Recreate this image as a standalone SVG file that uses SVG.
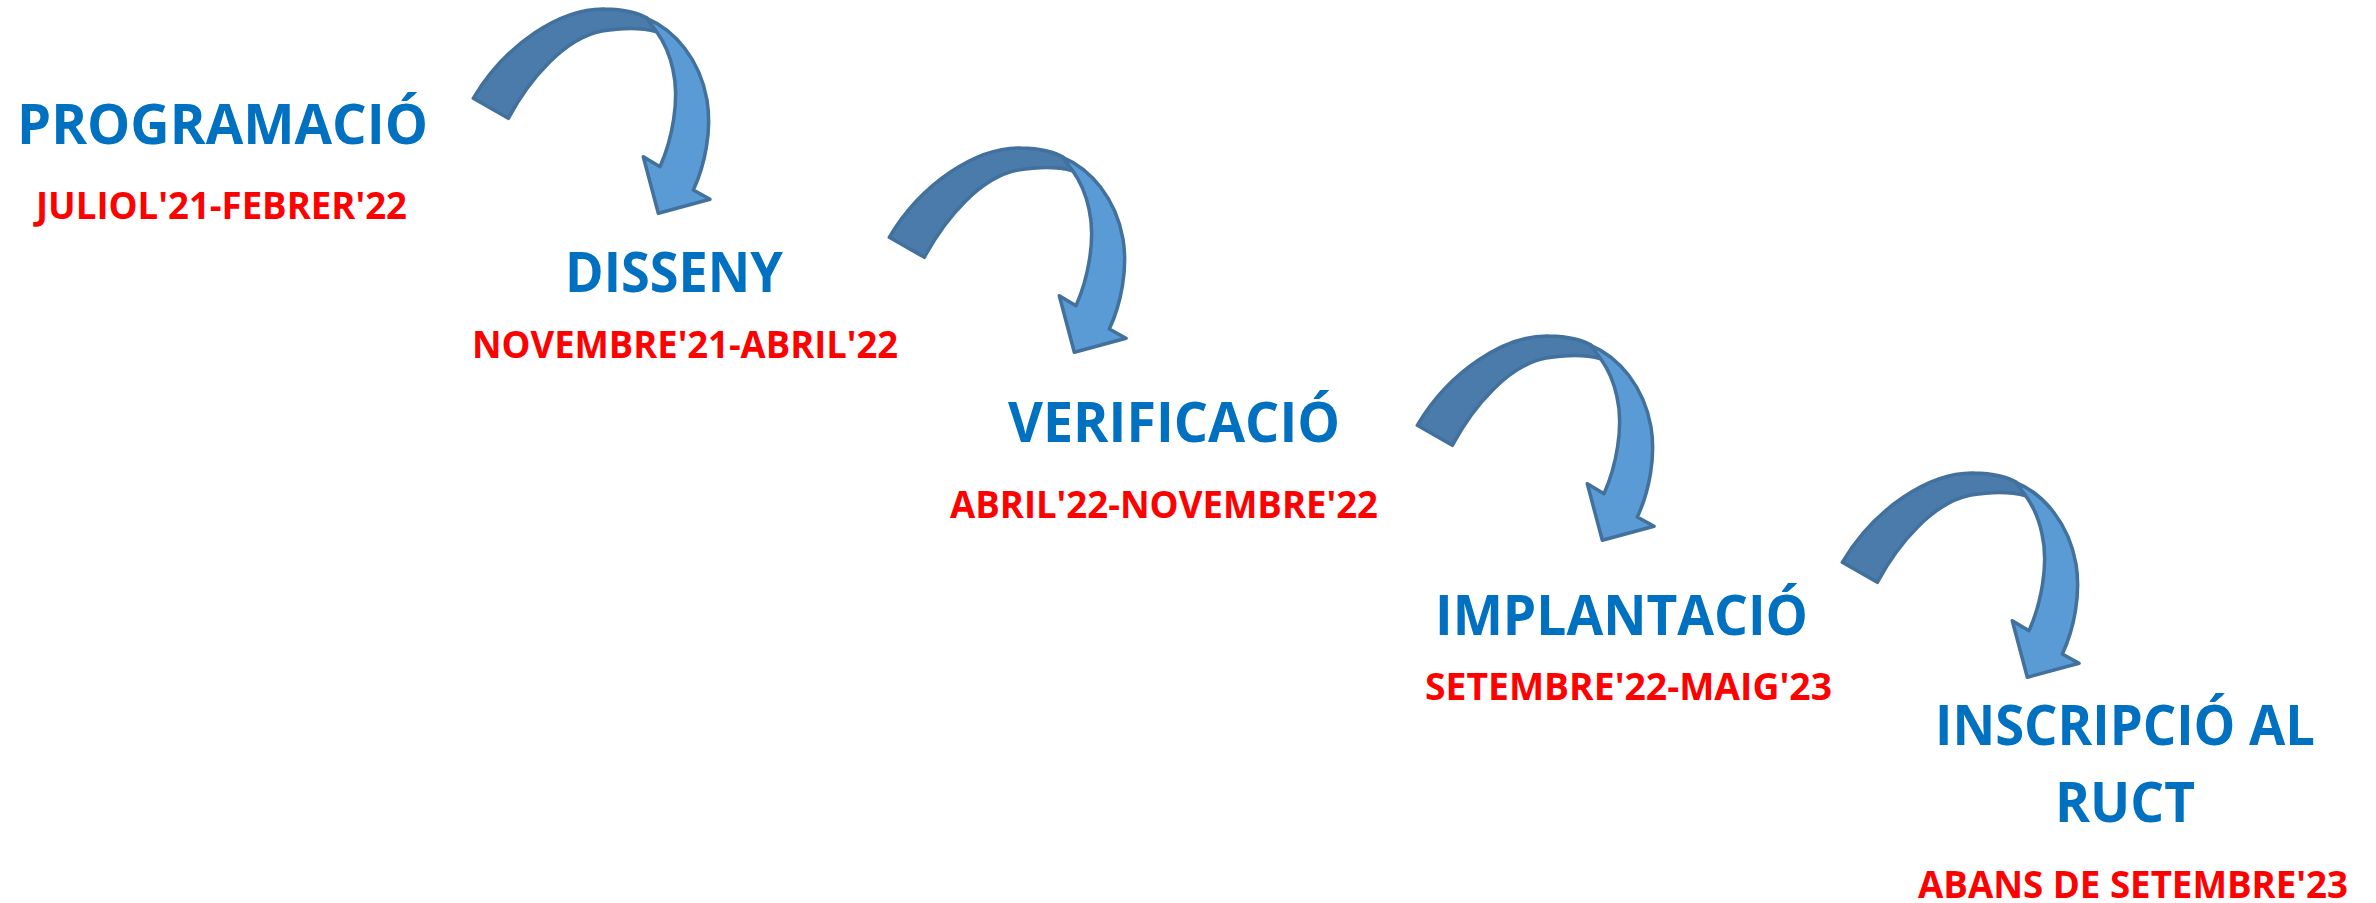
<svg xmlns="http://www.w3.org/2000/svg" xmlns:xlink="http://www.w3.org/1999/xlink" width="2376" height="903" viewBox="0 0 2376 903">
<style>
.t{font-family:"Open Sans","Noto Sans","Liberation Sans",sans-serif;font-weight:700}
.blue{fill:#0070C0;font-size:55px}
.red{fill:#FF0000;font-size:38px}
.back{fill:#4A7BAA;stroke:#41719C;stroke-width:3.5;stroke-linejoin:round}
.front{fill:#5B9BD5;stroke:#41719C;stroke-width:3.5;stroke-linejoin:round}
</style>
<defs>
<g id="curvedArrow">
<path class="back" d="M473.3,98.3 C505,45 560,8 605,9 C625,9 640,14 647,18 L656.7,31.7 C640,27 620,28 602,31 C565,38 530,78 508.3,118.3 Z"/>
<path class="front" d="M646.7,18.3 C675,30 700,60 707,100 C712,130 705,165 693.3,190 L710,199.3 L658.3,213.3 L643.3,156.7 L660,166.7 C672,140 680,100 673,70 C670,55 664,42 656.7,31.7 Z"/>
</g>
</defs>
<rect width="2376" height="903" fill="#FFFFFF"/>
<g id="connectors">
<use xlink:href="#curvedArrow" href="#curvedArrow"/>
<use xlink:href="#curvedArrow" href="#curvedArrow" transform="translate(416,139)"/>
<use xlink:href="#curvedArrow" href="#curvedArrow" transform="translate(944,327)"/>
<use xlink:href="#curvedArrow" href="#curvedArrow" transform="translate(1369,464)"/>
</g>
<g id="programacio">
<text class="t blue" x="17" y="144" textLength="411" lengthAdjust="spacingAndGlyphs">PROGRAMACIÓ</text>
<text class="t red" x="36" y="219" textLength="371" lengthAdjust="spacingAndGlyphs">JULIOL'21-FEBRER'22</text>
</g>
<g id="disseny">
<text class="t blue" x="565" y="292" textLength="218" lengthAdjust="spacingAndGlyphs">DISSENY</text>
<text class="t red" x="472" y="358" textLength="426" lengthAdjust="spacingAndGlyphs">NOVEMBRE'21-ABRIL'22</text>
</g>
<g id="verificacio">
<text class="t blue" x="1008" y="442" textLength="332" lengthAdjust="spacingAndGlyphs">VERIFICACIÓ</text>
<text class="t red" x="950" y="518" textLength="428" lengthAdjust="spacingAndGlyphs">ABRIL'22-NOVEMBRE'22</text>
</g>
<g id="implantacio">
<text class="t blue" x="1435" y="635" textLength="373" lengthAdjust="spacingAndGlyphs">IMPLANTACIÓ</text>
<text class="t red" x="1425" y="700" textLength="407" lengthAdjust="spacingAndGlyphs">SETEMBRE'22-MAIG'23</text>
</g>
<g id="inscripcio">
<text class="t blue" x="1935" y="745" textLength="380" lengthAdjust="spacingAndGlyphs">INSCRIPCIÓ AL</text>
<text class="t blue" x="2055" y="822" textLength="140" lengthAdjust="spacingAndGlyphs">RUCT</text>
<text class="t red" x="1918" y="898" textLength="430" lengthAdjust="spacingAndGlyphs">ABANS DE SETEMBRE'23</text>
</g>
</svg>
